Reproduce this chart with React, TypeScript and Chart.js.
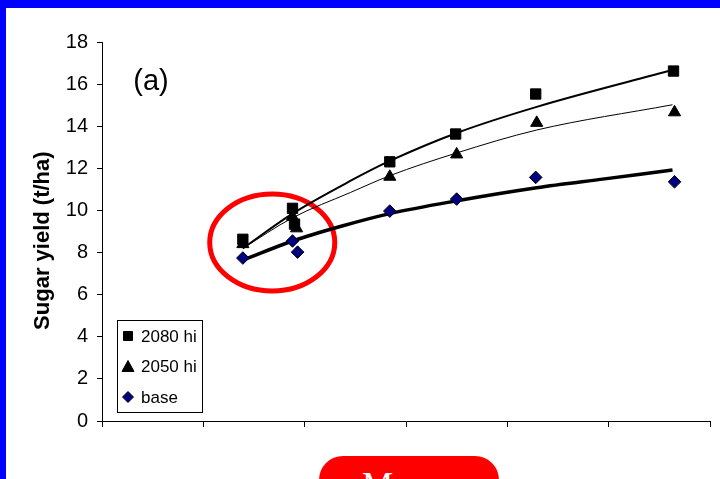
import React, { useEffect, useRef } from "react";
import { Chart, registerables } from "chart.js";

Chart.register(...registerables);

// Observed points
const x2080 = [1.39, 1.88, 1.9, 2.84, 3.49, 4.28, 5.64];
const y2080 = [8.63, 10.1, 9.35, 12.31, 13.63, 15.53, 16.62];
const x2050 = [1.39, 1.88, 1.92, 2.84, 3.5, 4.29, 5.65];
const y2050 = [8.4, 9.7, 9.15, 11.6, 12.66, 14.16, 14.66];
const xBase = [1.39, 1.88, 1.93, 2.84, 3.5, 4.28, 5.65];
const yBase = [7.74, 8.55, 8.02, 9.97, 10.54, 11.57, 11.36];

// Trend lines
const t2080x = [1.39, 1.88, 2.45, 2.84, 3.5, 4.29, 5.63];
const t2080y = [8.2, 9.85, 11.4, 12.35, 13.68, 14.92, 16.67];
const t2050x = [1.39, 1.88, 2.45, 2.84, 3.5, 4.29, 5.63];
const t2050y = [8.2, 9.65, 10.85, 11.65, 12.73, 13.82, 15.02];
const tBasex = [1.39, 1.88, 2.36, 2.84, 3.49, 4.29, 4.96, 5.63];
const tBasey = [7.64, 8.55, 9.25, 9.85, 10.45, 11.08, 11.5, 11.92];

const seriesLabels = ["2080 hi", "2050 hi", "base"];
const yTicksMax = 18;
const panelLabel = "(a)";
const yTitle = "Sugar yield (t/ha)";

// highlighted region (data units)
const ringCenter = { x: 1.68, y: 8.48 };
const ringRadii = { x: 0.617, y: 2.3 };

const FONT = '"Liberation Sans", Arial, sans-serif';

const zip = (xs: number[], ys: number[]) => xs.map((x, i) => ({ x, y: ys[i] }));

function drawMarker(ctx: CanvasRenderingContext2D, style: string, x: number, y: number, fill: string) {
  ctx.save();
  ctx.fillStyle = fill;
  ctx.strokeStyle = "#000";
  ctx.lineWidth = 1;
  ctx.beginPath();
  if (style === "rect") {
    ctx.rect(x - 4.5, y - 4.5, 9, 9);
  } else if (style === "triangle") {
    ctx.moveTo(x, y - 6);
    ctx.lineTo(x + 6, y + 5);
    ctx.lineTo(x - 6, y + 5);
    ctx.closePath();
  } else {
    ctx.moveTo(x, y - 5.5);
    ctx.lineTo(x + 5.5, y);
    ctx.lineTo(x, y + 5.5);
    ctx.lineTo(x - 5.5, y);
    ctx.closePath();
  }
  ctx.fill();
  ctx.stroke();
  ctx.restore();
}

const overlayPlugin = {
  id: "overlay",
  beforeDatasetsDraw(chart: any) {
    const { ctx, scales } = chart;
    const xs = scales.x;
    const ys = scales.y;
    const cx = xs.getPixelForValue(ringCenter.x);
    const cy = ys.getPixelForValue(ringCenter.y);
    const rx = xs.getPixelForValue(ringCenter.x + ringRadii.x) - cx;
    const ry = cy - ys.getPixelForValue(ringCenter.y + ringRadii.y);
    ctx.save();
    ctx.strokeStyle = "#ff0000";
    ctx.lineWidth = 5;
    ctx.beginPath();
    ctx.ellipse(cx, cy, rx, ry, 0, 0, Math.PI * 2);
    ctx.stroke();
    ctx.restore();
  },
  afterDraw(chart: any) {
    const { ctx, chartArea } = chart;
    ctx.save();
    // panel label
    ctx.fillStyle = "#000";
    ctx.font = `29px ${FONT}`;
    ctx.textAlign = "center";
    ctx.textBaseline = "middle";
    ctx.fillText(panelLabel, chartArea.left + 49, chartArea.top + 40);

    // legend box
    const bx = chartArea.left + 15;
    const bw = 85;
    const bh = 92;
    const by = chartArea.bottom - 9 - bh;
    ctx.fillStyle = "#fff";
    ctx.fillRect(bx, by, bw, bh);
    ctx.strokeStyle = "#000";
    ctx.lineWidth = 1;
    ctx.strokeRect(bx + 0.5, by + 0.5, bw, bh);
    const items = chart.data.datasets.filter((d: any) => d.label);
    ctx.font = `17px ${FONT}`;
    ctx.textAlign = "left";
    ctx.textBaseline = "middle";
    items.forEach((d: any, i: number) => {
      const yy = by + 16 + i * 30.5;
      drawMarker(ctx, d.pointStyle, bx + 11, yy, d.pointBackgroundColor);
      ctx.fillStyle = "#000";
      ctx.fillText(d.label, bx + 24, yy + 1);
    });
    ctx.restore();
  },
};

export default function App() {
  const ref = useRef<HTMLCanvasElement | null>(null);
  useEffect(() => {
    if (!ref.current) return;
    const chart = new Chart(ref.current, {
      type: "scatter",
      data: {
        datasets: [
          {
            label: seriesLabels[0],
            data: zip(x2080, y2080),
            pointStyle: "rect",
            pointRadius: 7.3,
            pointBackgroundColor: "#000",
            pointBorderColor: "#000",
            pointBorderWidth: 1,
            showLine: false,
          },
          {
            label: seriesLabels[1],
            data: zip(x2050, y2050),
            pointStyle: "triangle",
            pointRadius: 7,
            pointBackgroundColor: "#000",
            pointBorderColor: "#000",
            pointBorderWidth: 1,
            showLine: false,
          },
          {
            label: seriesLabels[2],
            data: zip(xBase, yBase),
            pointStyle: "rectRot",
            pointRadius: 6.3,
            pointBackgroundColor: "#000080",
            pointBorderColor: "#000",
            pointBorderWidth: 1,
            showLine: false,
          },
          {
            data: zip(t2080x, t2080y),
            showLine: true,
            pointRadius: 0,
            borderColor: "#000",
            borderWidth: 2,
            cubicInterpolationMode: "monotone",
          },
          {
            data: zip(t2050x, t2050y),
            showLine: true,
            pointRadius: 0,
            borderColor: "#000",
            borderWidth: 1,
            cubicInterpolationMode: "monotone",
          },
          {
            data: zip(tBasex, tBasey),
            showLine: true,
            pointRadius: 0,
            borderColor: "#000",
            borderWidth: 3.5,
            cubicInterpolationMode: "monotone",
          },
        ],
      } as any,
      options: {
        responsive: false,
        animation: false,
        events: [],
        layout: { padding: { top: 42, right: 10, bottom: 0, left: 0 } },
        plugins: { legend: { display: false }, tooltip: { enabled: false } },
        scales: {
          x: {
            type: "linear",
            min: 0,
            max: 6,
            ticks: { stepSize: 1, display: false },
            grid: { drawOnChartArea: false, drawTicks: true, tickLength: 6, color: "#000" },
            border: { color: "#000", width: 1 },
            afterFit: (s: any) => {
              s.height = 58;
            },
          },
          y: {
            min: 0,
            max: yTicksMax,
            ticks: { stepSize: 2, color: "#000", padding: 9, font: { family: FONT, size: 20 } },
            grid: { drawOnChartArea: false, drawTicks: true, tickLength: 5, color: "#000" },
            border: { color: "#000", width: 1 },
            title: {
              display: true,
              text: yTitle + "   ",
              color: "#000",
              font: { family: FONT, size: 22, weight: "bold" },
              padding: { top: 30, bottom: 0 },
            },
            afterFit: (s: any) => {
              s.width = 102;
            },
          },
        },
      } as any,
      plugins: [overlayPlugin],
    });
    return () => chart.destroy();
  }, []);

  return (
    <div style={{ position: "fixed", left: 0, top: 0, width: 720, height: 479, overflow: "hidden", background: "#fff" }}>
      <canvas ref={ref} width={720} height={479} style={{ position: "absolute", left: 0, top: 0 }} />
      <div style={{ position: "absolute", left: 0, top: 0, width: 720, height: 8, background: "#0000ff" }} />
      <div style={{ position: "absolute", left: 0, top: 0, width: 6, height: 479, background: "#0000ff" }} />
      <div
        style={{
          position: "absolute",
          left: 319,
          top: 456,
          width: 180,
          height: 60,
          borderRadius: 24,
          background: "#ff0000",
        }}
      >
        <span
          style={{
            position: "absolute",
            left: 43,
            top: 12,
            color: "#fff",
            fontFamily: '"Liberation Serif", "Times New Roman", serif',
            fontSize: 35,
            lineHeight: 1,
            whiteSpace: "nowrap",
          }}
        >
          More
        </span>
      </div>
    </div>
  );
}
